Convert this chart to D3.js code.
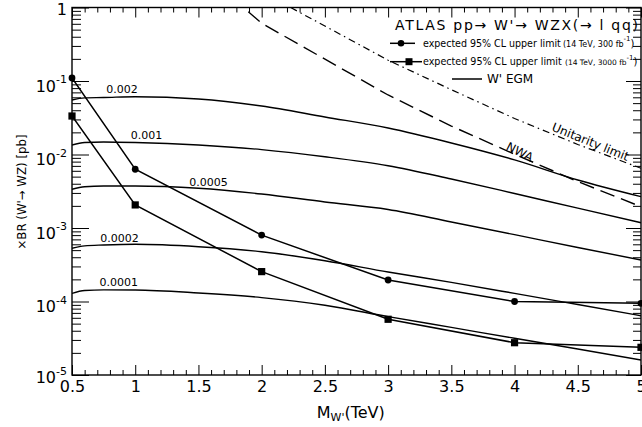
<!DOCTYPE html>
<html><head><meta charset="utf-8">
<script src="https://cdn.jsdelivr.net/npm/d3@7"></script>
<style>
body{margin:0;background:#fff}
svg{display:block}
text{font-family:"DejaVu Sans",sans-serif;fill:#000}
</style>
</head><body>
<svg id="chart" width="642" height="427"></svg>
<script>
// ---- data ----
const massLimit = [0.5, 1, 2, 3, 4, 5];
const limit300  = [0.11, 0.0063, 8.0e-4, 1.96e-4, 1.0e-4, 9.45e-5];
const limit3000 = [0.0334, 2.06e-3, 2.55e-4, 5.73e-5, 2.75e-5, 2.38e-5];

const massEGM  = [0.5, 0.6, 0.75, 1, 1.5, 2, 2.5, 3, 3.5, 4, 4.5, 5];
const egm0002  = [0.0551, 0.0590, 0.0596, 0.0611, 0.0569, 0.0457, 0.0324, 0.0229, 0.01434, 0.00844, 0.0045, 0.00267];
const egm0001  = [0.01347, 0.01453, 0.01480, 0.01457, 0.01347, 0.01166, 0.00933, 0.00704, 0.00464, 0.00295, 0.00186, 0.00118];
const egm00005 = [0.00336, 0.00364, 0.00373, 0.00373, 0.00347, 0.0029, 0.00226, 0.001786, 0.001207, 0.000811, 0.000543, 0.000367];
const egm00002 = [5.29e-4, 5.72e-4, 5.87e-4, 6.0e-4, 5.57e-4, 4.76e-4, 3.59e-4, 2.52e-4, 1.82e-4, 1.29e-4, 9.1e-5, 6.41e-5];
const egm00001 = [1.29e-4, 1.41e-4, 1.44e-4, 1.434e-4, 1.305e-4, 1.13e-4, 8.88e-5, 6.23e-5, 4.44e-5, 3.16e-5, 2.26e-5, 1.6e-5];
const egmLabels = ["0.002", "0.001", "0.0005", "0.0002", "0.0001"];
const egmLabelMass = [0.896, 1.09, 1.579, 0.876, 0.869];
const egmLabelValue = [0.0755, 0.01786, 0.00416, 7.31e-4, 1.786e-4];

const massNWA = [1.5, 2, 3, 3.5, 4, 4.5, 5];
const nwa     = [3.4, 0.61, 0.0645, 0.0244, 0.0101, 0.00428, 0.00195];
const massUnitarity = [2, 2.5, 3, 3.5, 4, 4.5, 5];
const unitarity     = [1.63, 0.56, 0.192, 0.0761, 0.0309, 0.0137, 0.00649];

const xMajorTicks = [0.5, 1, 1.5, 2, 2.5, 3, 3.5, 4, 4.5, 5];
const xTickLabels = ["0.5", "1", "1.5", "2", "2.5", "3", "3.5", "4", "4.5", "5"];
const yDecades = [1, 1e-1, 1e-2, 1e-3, 1e-4, 1e-5];
const yDecadeExp = ["", "-1", "-2", "-3", "-4", "-5"];

// ---- layout ----
const svg = d3.select("#chart");
const x = d3.scaleLinear().domain([0.5, 5]).range([72, 641]);
const y = d3.scaleLog().domain([1e-5, 1]).range([375, 7.5]);
const X0 = x.range()[0], X1 = x.range()[1], Y0 = y.range()[0], Y1 = y.range()[1];

svg.append("defs").append("clipPath").attr("id", "plotclip")
  .append("rect").attr("x", X0).attr("y", Y1).attr("width", X1 - X0).attr("height", Y0 - Y1);

const plot = svg.append("g").attr("clip-path", "url(#plotclip)");

const lineSmooth = d3.line().x(d => x(d[0])).y(d => y(d[1])).curve(d3.curveMonotoneX);
const lineStraight = d3.line().x(d => x(d[0])).y(d => y(d[1]));

// EGM curves
[egm0002, egm0001, egm00005, egm00002, egm00001].forEach(vals => {
  plot.append("path").attr("d", lineSmooth(d3.zip(massEGM, vals)))
    .attr("fill", "none").attr("stroke", "#000").attr("stroke-width", 1.4);
});
// NWA dashed
plot.append("path").attr("d", lineStraight(d3.zip(massNWA, nwa)))
  .attr("fill", "none").attr("stroke", "#000").attr("stroke-width", 1.4)
  .attr("stroke-dasharray", "15,7");
// Unitarity dash-dot
plot.append("path").attr("d", lineStraight(d3.zip(massUnitarity, unitarity)))
  .attr("fill", "none").attr("stroke", "#000").attr("stroke-width", 1.2)
  .attr("stroke-dasharray", "7,4,1.5,4");

// expected limits
plot.append("path").attr("d", lineStraight(d3.zip(massLimit, limit300)))
  .attr("fill", "none").attr("stroke", "#000").attr("stroke-width", 1.5);
plot.append("path").attr("d", lineStraight(d3.zip(massLimit, limit3000)))
  .attr("fill", "none").attr("stroke", "#000").attr("stroke-width", 1.5);
svg.append("g").selectAll("circle").data(d3.zip(massLimit, limit300)).join("circle")
  .attr("cx", d => x(d[0])).attr("cy", d => y(d[1])).attr("r", 3.4).attr("fill", "#000");
svg.append("g").selectAll("rect").data(d3.zip(massLimit, limit3000)).join("rect")
  .attr("x", d => x(d[0]) - 3.6).attr("y", d => y(d[1]) - 3.6)
  .attr("width", 7.2).attr("height", 7.2).attr("fill", "#000");

// curve labels
egmLabels.forEach((t, i) => {
  svg.append("text").attr("x", x(egmLabelMass[i])).attr("y", y(egmLabelValue[i]))
    .attr("text-anchor", "middle").attr("dominant-baseline", "central")
    .style("font-size", "11px").text(t);
});
const nwaX = x(4.04), nwaY = y(0.0108);
svg.append("text").attr("transform", `translate(${nwaX},${nwaY}) rotate(27)`)
  .attr("text-anchor", "middle").attr("dominant-baseline", "central")
  .style("font-size", "12px").text("NWA");
const uX = x(4.60), uY = y(0.0148);
svg.append("text").attr("transform", `translate(${uX},${uY}) rotate(22)`)
  .attr("text-anchor", "middle").attr("dominant-baseline", "central")
  .style("font-size", "12px").text("Unitarity limit");

// ---- axes ----
const xMinor = d3.range(5, 51).map(v => v / 10).filter(v => Math.abs(v * 2 - Math.round(v * 2)) > 1e-6);
const yMinor = [];
for (let e = -5; e < 0; e++) for (let k = 2; k <= 9; k++) yMinor.push(k * Math.pow(10, e));

function styleAxis(g) {
  g.select(".domain").remove();
  g.selectAll(".tick line").attr("stroke", "#000").attr("stroke-width", 1);
}
// bottom
svg.append("g").attr("transform", `translate(0,${Y0})`)
  .call(d3.axisBottom(x).tickValues(xMajorTicks).tickFormat((d, i) => xTickLabels[i]).tickSize(-10).tickPadding(6))
  .call(styleAxis)
  .call(g => g.selectAll("text").style("font-size", "16px").style("font-family", "DejaVu Sans"));
svg.append("g").attr("transform", `translate(0,${Y0})`)
  .call(d3.axisBottom(x).tickValues(xMinor).tickFormat("").tickSize(-5)).call(styleAxis);
// top
svg.append("g").attr("transform", `translate(0,${Y1})`)
  .call(d3.axisTop(x).tickValues(xMajorTicks).tickFormat("").tickSize(-10)).call(styleAxis);
svg.append("g").attr("transform", `translate(0,${Y1})`)
  .call(d3.axisTop(x).tickValues(xMinor).tickFormat("").tickSize(-5)).call(styleAxis);
// left
svg.append("g").attr("transform", `translate(${X0},0)`)
  .call(d3.axisLeft(y).tickValues(yDecades).tickFormat("").tickSize(-17)).call(styleAxis);
svg.append("g").attr("transform", `translate(${X0},0)`)
  .call(d3.axisLeft(y).tickValues(yMinor).tickFormat("").tickSize(-9)).call(styleAxis);
// right
svg.append("g").attr("transform", `translate(${X1},0)`)
  .call(d3.axisRight(y).tickValues(yDecades).tickFormat("").tickSize(-15)).call(styleAxis);
svg.append("g").attr("transform", `translate(${X1},0)`)
  .call(d3.axisRight(y).tickValues(yMinor).tickFormat("").tickSize(-8)).call(styleAxis);

// frame
svg.append("rect").attr("x", X0).attr("y", Y1).attr("width", X1 - X0).attr("height", Y0 - Y1)
  .attr("fill", "none").attr("stroke", "#000").attr("stroke-width", 1.4);

// y tick labels
yDecades.forEach((v, i) => {
  const yy = y(v);
  const t = svg.append("text").attr("text-anchor", "end").attr("x", 67)
    .attr("y", yy + (i === 0 ? 7.5 : (i === 5 ? 8 : 10.5))).style("font-size", "16px");
  if (yDecadeExp[i] === "") {
    t.text("1");
  } else {
    t.append("tspan").text("10");
    t.append("tspan").attr("dy", -8.5).style("font-size", "11px").text(yDecadeExp[i]);
  }
});

// axis titles
const xt = svg.append("text").attr("x", 316.7).attr("y", 418).style("font-size", "16px");
xt.append("tspan").text("M");
xt.append("tspan").attr("dy", 3).style("font-size", "11px").text("W'");
xt.append("tspan").attr("dy", -3).text("(TeV)");

svg.append("text").attr("transform", "translate(26,192) rotate(-90)")
  .attr("text-anchor", "middle").style("font-size", "12.5px")
  .attr("textLength", 115).attr("lengthAdjust", "spacingAndGlyphs")
  .text("×BR (W'→ WZ) [pb]");

// ---- legend ----
const lg = svg.append("g");
lg.append("text").attr("x", 395).attr("y", 30).style("font-size", "14px")
  .attr("textLength", 243).attr("lengthAdjust", "spacing")
  .text("ATLAS  pp→ W'→ WZX(→ l qq)");

// condensed text: scale horizontally so the rendered box is the target width
function legendMain(xs, yb, len, str) {
  const g = lg.append("g");
  const t = g.append("text").attr("x", 0).attr("y", 0).style("font-size", "11px").text(str);
  const natural = t.node().getComputedTextLength();
  g.attr("transform", `translate(${xs},${yb}) scale(${len / natural},1)`);
}
function legendLumi(xs, yb, size, str) {
  const t = lg.append("text").attr("x", xs).attr("y", yb).style("font-size", size + "px");
  t.append("tspan").text(str);
  t.append("tspan").attr("dy", -5.5).style("font-size", "7px").text("-1");
  t.append("tspan").attr("dy", 5.5).style("font-size", "10px").text(")");
}
// entry 1
lg.append("line").attr("x1", 390).attr("x2", 415).attr("y1", 43.3).attr("y2", 43.3)
  .attr("stroke", "#000").attr("stroke-width", 1.5);
lg.append("circle").attr("cx", 401).attr("cy", 43.3).attr("r", 3.3).attr("fill", "#000");
legendMain(423, 46.7, 138, "expected 95% CL upper limit");
legendLumi(563, 46.7, 8, "(14 TeV, 300 fb");
// entry 2
lg.append("line").attr("x1", 390).attr("x2", 422).attr("y1", 61.7).attr("y2", 61.7)
  .attr("stroke", "#000").attr("stroke-width", 1.5);
lg.append("rect").attr("x", 405.5).attr("y", 58.2).attr("width", 7).attr("height", 7).attr("fill", "#000");
legendMain(423, 65, 139, "expected 95% CL upper limit");
legendLumi(565, 65, 7.5, "(14 TeV, 3000 fb");
// entry 3
lg.append("line").attr("x1", 452).attr("x2", 482).attr("y1", 79).attr("y2", 79)
  .attr("stroke", "#000").attr("stroke-width", 1.5);
lg.append("text").attr("x", 487).attr("y", 83.3).style("font-size", "12px").text("W' EGM");
</script>
</body></html>
